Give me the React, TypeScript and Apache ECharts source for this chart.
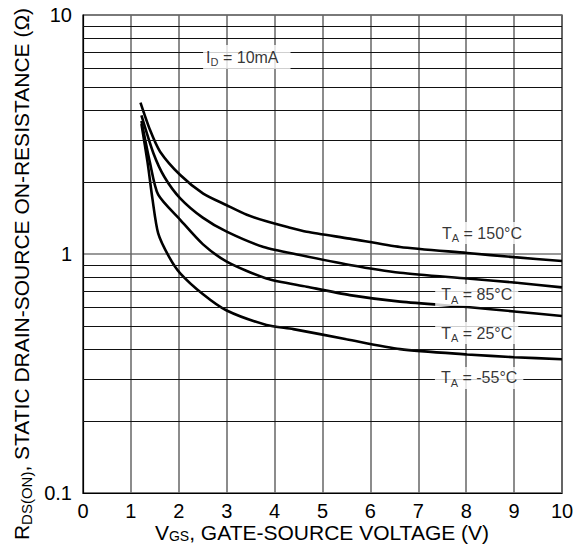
import React, { useEffect, useRef } from "react";
import * as echarts from "echarts";

const xTicks = [0, 1, 2, 3, 4, 5, 6, 7, 8, 9, 10];
const minorY = [0.2, 0.3, 0.4, 0.5, 0.6, 0.7, 0.8, 0.9, 2, 3, 4, 5, 6, 7, 8, 9];

const t150: [number, number][] = [
  [1.2, 4.3], [1.4, 3.3], [1.61, 2.68], [2.03, 2.14], [2.51, 1.79], [3.0, 1.6],
  [3.42, 1.46], [3.83, 1.37], [4.25, 1.3], [4.67, 1.24], [5.57, 1.16], [6.62, 1.07],
  [8.02, 1.01], [9, 0.97], [10, 0.935],
];
const t85: [number, number][] = [
  [1.22, 3.8], [1.47, 2.64], [1.7, 2.1], [2.03, 1.71], [2.5, 1.42], [3.0, 1.24],
  [3.77, 1.07], [4.53, 0.99], [5.57, 0.9], [6.62, 0.835], [8.02, 0.79], [9, 0.76],
  [10, 0.725],
];
const t25: [number, number][] = [
  [1.22, 3.6], [1.4, 2.4], [1.57, 1.77], [2.03, 1.39], [2.5, 1.1], [3.0, 0.93],
  [3.83, 0.79], [4.67, 0.73], [5.57, 0.673], [6.62, 0.632], [8.02, 0.6], [9, 0.575],
  [10, 0.55],
];
const tm55: [number, number][] = [
  [1.22, 3.5], [1.35, 2.4], [1.45, 1.7], [1.57, 1.22], [1.8, 0.97], [2.03, 0.83],
  [2.5, 0.68], [3.0, 0.58], [3.83, 0.505], [4.39, 0.485], [5.5, 0.44], [6.62, 0.4],
  [8.02, 0.38], [9, 0.37], [10, 0.363],
];

const labelMain = ["I", "T", "T", "T", "T"];
const labelSub = ["D", "A", "A", "A", "A"];
const labelRest = [" = 10mA", " = 150°C", " = 85°C", " = 25°C", " = -55°C"];
const labelX = [3.42, 8.33, 8.22, 8.22, 8.27];
const labelY = [6.67, 1.224, 0.674, 0.467, 0.303];

const FONT = "'Liberation Sans', Arial, Helvetica, sans-serif";

export default function App() {
  const ref = useRef<HTMLDivElement>(null);
  useEffect(() => {
    if (!ref.current) return;
    const chart = echarts.init(ref.current, undefined, { renderer: "svg" });
    const curveStyle = { color: "#000", width: 2.6 };
    const mkCurve = (name: string, data: [number, number][]) => ({
      name,
      type: "line",
      data,
      showSymbol: false,
      symbol: "none",
      smooth: 0.25,
      lineStyle: curveStyle,
      z: 3,
      silent: true,
    });
    const annData = labelX.map((x, i) => ({
      value: [x, labelY[i]],
      label: {
        show: true,
        position: "inside",
        formatter: `{m|${labelMain[i]}}{s|${labelSub[i]}}{m|${labelRest[i]}}`,
        backgroundColor: "#fff",
        padding: i === 0 ? [3, 12, 3, 3] : [2, 6, 2, 6],
        rich: {
          m: { fontSize: 16, fontFamily: FONT, color: "#000", lineHeight: 18 },
          s: { fontSize: 11, fontFamily: FONT, color: "#000", lineHeight: 11, padding: [10, 0, 0, 0] },
        },
      },
    }));
    chart.setOption({
      animation: false,
      grid: { left: 83, right: 23, top: 15, bottom: 52, show: true, borderColor: "#000", borderWidth: 1.2 },
      xAxis: {
        type: "value",
        min: 0,
        max: 10,
        interval: 1,
        axisLine: { show: true, lineStyle: { color: "#000", width: 1.2 } },
        axisTick: { show: false },
        axisLabel: { fontSize: 20, fontFamily: FONT, color: "#000", margin: 8 },
        splitLine: { show: true, lineStyle: { color: "#666", width: 1.5 } },
      },
      yAxis: {
        type: "log",
        logBase: 10,
        min: 0.1,
        max: 10,
        axisLine: { show: true, lineStyle: { color: "#000", width: 1.2 } },
        axisTick: { show: false },
        axisLabel: {
          fontSize: 20,
          fontFamily: FONT,
          color: "#000",
          margin: 11,
          formatter: (v: number) => (v < 0.5 ? "0.1" : v < 5 ? "1" : "10"),
        },
        splitLine: { show: true, lineStyle: { color: "#777", width: 1.5 } },
      },
      graphic: [
        {
          type: "text",
          x: 322,
          y: 532,
          style: {
            text: "{m|V}{s|GS}{m|, GATE-SOURCE VOLTAGE (V)}",
            align: "center",
            verticalAlign: "middle",
            rich: {
              m: { fontSize: 21, fontFamily: FONT, fill: "#000", lineHeight: 21 },
              s: { fontSize: 14, fontFamily: FONT, fill: "#000", lineHeight: 14, padding: [8, 0, 0, 0] },
            },
          },
        },
        {
          type: "text",
          x: 21,
          y: 274,
          rotation: Math.PI / 2,
          style: {
            text: "{m|R}{s|DS(ON)}{m|, STATIC DRAIN-SOURCE ON-RESISTANCE (Ω)}",
            align: "center",
            verticalAlign: "middle",
            rich: {
              m: { fontSize: 21, fontFamily: FONT, fill: "#000", lineHeight: 22 },
              s: { fontSize: 15, fontFamily: FONT, fill: "#000", lineHeight: 15, padding: [11, 0, 0, 0] },
            },
          },
        },
      ],
      series: [
        {
          name: "grid",
          type: "line",
          data: [],
          silent: true,
          z: 1,
          markLine: {
            silent: true,
            symbol: ["none", "none"],
            label: { show: false },
            lineStyle: { color: "#111", width: 1, type: "solid" },
            data: minorY.map((v) => ({ yAxis: v })),
          },
        },
        mkCurve("150", t150),
        mkCurve("85", t85),
        mkCurve("25", t25),
        mkCurve("-55", tm55),
        {
          name: "labels",
          type: "scatter",
          symbolSize: 0,
          z: 5,
          silent: true,
          data: annData,
        },
      ],
    });
    return () => chart.dispose();
  }, []);
  return (
    <div
      ref={ref}
      style={{ position: "absolute", left: 0, top: 0, width: 585, height: 545, background: "#fff" }}
    />
  );
}
